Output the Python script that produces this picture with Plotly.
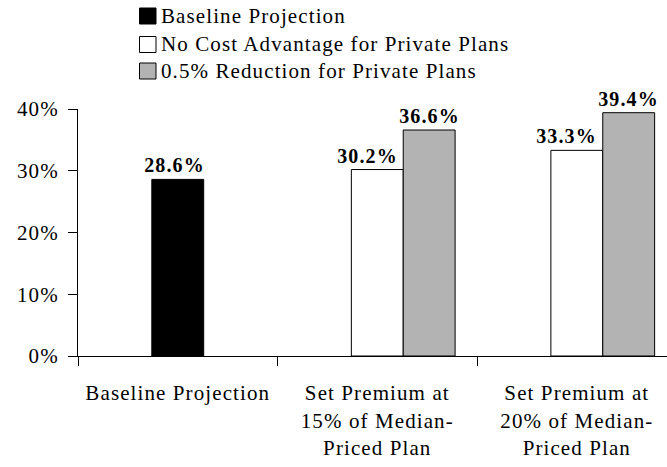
import plotly.graph_objects as go

categories = ["Baseline Projection",
              "Set Premium at<br>15% of Median-<br>Priced Plan",
              "Set Premium at<br>20% of Median-<br>Priced Plan"]
series_names = ["Baseline Projection",
                "No Cost Advantage for Private Plans",
                "0.5% Reduction for Private Plans"]
series_colors = ["#000000", "#ffffff", "#b3b3b3"]
baseline_vals = [0.286]
nocost_vals = [0.302, 0.333]
reduction_vals = [0.366, 0.394]
y_ticks = [0, 0.1, 0.2, 0.3, 0.4]

FONT = "Liberation Serif, Times New Roman, serif"
BW = 0.26

# plot-area geometry in pixels (for legend placement)
W, H = 667, 467
ML, MR, MT, MB = 78, 0, 109, 111
PW, PH = W - ML - MR, H - MT - MB

def px_x(px):
    return (px - ML) / PW

def px_y(py):
    return (H - MB - py) / PH

fig = go.Figure()
fig.add_trace(go.Bar(name=series_names[0], x=categories[:1], y=baseline_vals,
                     width=BW, offset=-BW / 2,
                     marker=dict(color=series_colors[0], line=dict(color="#000000", width=1))))
fig.add_trace(go.Bar(name=series_names[1], x=categories[1:], y=nocost_vals,
                     width=BW, offset=-BW / 2,
                     marker=dict(color=series_colors[1], line=dict(color="#000000", width=1))))
fig.add_trace(go.Bar(name=series_names[2], x=categories[1:], y=reduction_vals,
                     width=BW, offset=BW / 2,
                     marker=dict(color=series_colors[2], line=dict(color="#000000", width=1))))

ann = []
cat_px = 199.5
def lab(x, y, xshift):
    ann.append(dict(x=x, y=y, xref="x", yref="y", text=f"<b>{y*100:.1f}%</b>",
                    showarrow=False, yanchor="bottom", xanchor="center",
                    xshift=xshift, yshift=1,
                    font=dict(family=FONT, size=20, color="#000000")))

for c, v in zip(categories[:1], baseline_vals):
    lab(c, v, -3)
for c, v in zip(categories[1:], nocost_vals):
    lab(c, v, -10)
for c, v in zip(categories[1:], reduction_vals):
    lab(c, v, BW * cat_px)

# custom legend (boxes + labels)
shapes = []
row_tops = [8, 36.5, 63]
for name, col, top in zip(series_names, series_colors, row_tops):
    shapes.append(dict(type="rect", xref="paper", yref="paper", layer="below",
                       x0=px_x(139.5), x1=px_x(156), y0=px_y(top + 16), y1=px_y(top),
                       fillcolor=col, line=dict(color="#000000", width=1)))
    ann.append(dict(x=px_x(159), y=px_y(top + 8), xref="paper", yref="paper",
                    text=name, showarrow=False, xanchor="left", yanchor="middle",
                    align="left",
                    font=dict(family=FONT, size=21, color="#000000")))

fig.update_layout(
    width=W, height=H,
    margin=dict(l=ML, r=MR, t=MT, b=MB),
    plot_bgcolor="rgba(0,0,0,0)", paper_bgcolor="#ffffff",
    barmode="overlay",
    font=dict(family=FONT, size=21, color="#000000"),
    showlegend=False,
    annotations=ann,
    shapes=shapes,
)
fig.update_xaxes(type="category", range=[-0.5, 2.452], showline=True, linecolor="#000000",
                 linewidth=1, ticks="outside", tickson="boundaries", ticklen=9,
                 tickcolor="#000000", showgrid=False, ticklabelstandoff=18,
                 tickfont=dict(family=FONT, size=21))
fig.update_yaxes(range=[0, 0.4], tickvals=y_ticks, tickformat=".0%", showline=True,
                 linecolor="#000000", linewidth=1, ticks="outside", ticklen=9,
                 tickcolor="#000000", showgrid=False, zeroline=False,
                 ticklabelstandoff=5, tickfont=dict(family=FONT, size=21))

post = ("var s=document.createElement('style');"
        "s.textContent='.main-svg text{letter-spacing:1.1px}';"
        "document.head.appendChild(s);")
fig.write_html("out.html", post_script=post)
